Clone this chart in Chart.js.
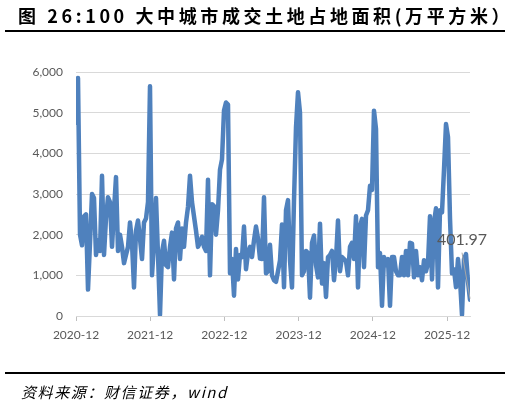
<!DOCTYPE html>
<html><head><meta charset="utf-8">
<script src="https://cdn.jsdelivr.net/npm/chart.js@4.4.1/dist/chart.umd.min.js"></script>
<style>
html,body{margin:0;padding:0;background:#fff;}
#wrap{position:relative;width:511px;height:406px;overflow:hidden;}
#title{position:absolute;left:18px;top:3px;font:bold 18px "Noto Sans CJK SC";letter-spacing:3.6px;color:#000;white-space:nowrap;line-height:24px;}
#rule1{position:absolute;left:5px;top:30px;width:500px;height:2px;background:#000;}
#rule2{position:absolute;left:5px;top:372px;width:500px;height:1.5px;background:#000;}
#src{position:absolute;left:21px;top:381px;font:italic 15px "Noto Sans CJK SC";letter-spacing:1.6px;color:#000;line-height:22px;white-space:nowrap;}
#c{position:absolute;left:0;top:0;}
</style></head>
<body>
<div id="wrap">
<canvas id="c" width="511" height="406"></canvas>
<div id="title">图 26:100 大中城市成交土地占地面积(万平方米）</div>
<div id="rule1"></div>
<div id="rule2"></div>
<div id="src">资料来源：财信证券，wind</div>
</div>
<script>
// tick labels for the time axis (one per year)
const yearLabels = ['2020-12','2021-12','2022-12','2023-12','2024-12','2025-12'];
const pointsPerYear = 37.1;
// land area values (万平方米), grouped by year segment
const seg2021 = [4750,5850,2000,1740,2450,2500,650,1800,3000,2900,1500,1860,1600,3450,1500,2400,2920,2800,1700,2600,3415,1600,2000,1700,1300,1500,1700,2300,1800,700,2100,2350,1900,1400,2300,2400,2800];
const seg2022 = [5650,1000,1800,2900,1500,30,1570,1850,1250,1200,1700,2050,900,2150,2300,1400,2150,1700,2300,2680,3450,2800,2450,2100,1700,1800,1950,1700,1600,3350,1000,2750,2700,2000,2600,3600,3850];
const seg2023 = [5050,5250,5200,1050,1400,500,1650,900,1500,1450,2200,1150,1550,1700,1450,1860,2200,1900,1410,1400,2920,1050,1100,1750,1000,880,840,1100,1370,2250,710,2600,2850,1370,700,2840,4640];
const seg2024 = [5500,5000,1000,1100,1600,1550,450,1800,1980,1250,950,2270,800,1300,470,1450,1500,1600,880,1400,2350,1100,1450,1400,1350,1000,1700,1800,1400,2450,700,2200,2390,1200,2470,2600,3200];
const seg2025 = [3100,5050,4600,1200,1550,250,1450,1250,1400,250,1450,1450,1100,1000,1000,1450,1000,1600,1000,1800,1780,950,1600,1000,1200,880,1370,1100,1300,2450,900,2300,2650,700,2600,2550,3600];
const seg2026 = [4720,4400,2400,1050,1150,710,1400,900,30,1400,1520,850,401.97];
const values = [].concat(seg2021, seg2022, seg2023, seg2024, seg2025, seg2026);
const lastLabel = '401.97';

const points = values.map((v, i) => ({x: i, y: v}));

const lastLabelPlugin = {
  id: 'lastLabel',
  afterDatasetsDraw(chart) {
    const meta = chart.getDatasetMeta(0);
    const p = meta.data[meta.data.length - 1];
    const ctx = chart.ctx;
    ctx.save();
    ctx.strokeStyle = '#a6a6a6';
    ctx.lineWidth = 1;
    ctx.beginPath();
    ctx.moveTo(p.x - 8, p.y - 47);
    ctx.lineTo(p.x, p.y - 1);
    ctx.stroke();
    ctx.fillStyle = '#595959';
    ctx.font = '16px Lato';
    ctx.textAlign = 'center';
    ctx.textBaseline = 'middle';
    ctx.fillText(lastLabel, p.x - 8, p.y - 60);
    ctx.restore();
  }
};

new Chart(document.getElementById('c'), {
  type: 'line',
  data: { datasets: [{
    data: points,
    borderColor: '#4F81BD',
    borderWidth: 4.5,
    pointRadius: 0,
    tension: 0,
    borderJoinStyle: 'round',
    borderCapStyle: 'round',
    fill: false
  }]},
  options: {
    responsive: false,
    animation: false,
    devicePixelRatio: 1,
    layout: { padding: { left: 0, right: 41, top: 72, bottom: 0 } },
    plugins: { legend: { display: false }, tooltip: { enabled: false } },
    scales: {
      x: {
        type: 'linear',
        min: 0,
        max: values.length - 1,
        afterBuildTicks(scale) {
          scale.ticks = yearLabels.map((l, k) => ({ value: k * pointsPerYear }));
        },
        afterFit(scale) { scale.height = 90; },
        ticks: {
          autoSkip: false, maxRotation: 0, color: '#595959', padding: 7,
          font: { family: 'Lato', size: 12 },
          callback: (v, i) => yearLabels[i]
        },
        grid: { display: true, drawOnChartArea: false, drawTicks: true, tickLength: 5, color: '#bfbfbf' },
        border: { display: true, color: '#d9d9d9', width: 1 }
      },
      y: {
        min: 0, max: 6000,
        afterFit(scale) { scale.width = 76; },
        ticks: {
          stepSize: 1000, color: '#595959', padding: 13,
          font: { family: 'Lato', size: 12 },
          callback: v => v.toLocaleString('en-US')
        },
        grid: { color: '#d9d9d9', drawTicks: false },
        border: { display: false }
      }
    }
  },
  plugins: [lastLabelPlugin]
});
</script>
</body></html>
